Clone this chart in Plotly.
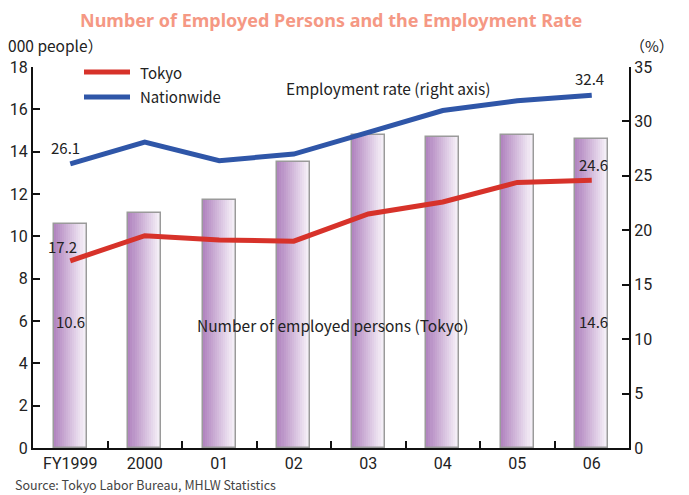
import plotly.graph_objects as go

# ---- data ----
categories = ["FY1999", "2000", "01", "02", "03", "04", "05", "06"]
employed_tokyo = [10.6, 11.1, 11.7, 13.5, 14.8, 14.7, 14.8, 14.6]   # 1000 people
rate_tokyo = [17.2, 19.5, 19.1, 19.0, 21.5, 22.6, 24.4, 24.6]      # %
rate_nation = [26.1, 28.1, 26.4, 27.0, 29.0, 31.0, 31.9, 32.4]     # %
left_ticks = [0, 2, 4, 6, 8, 10, 12, 14, 16, 18]
right_ticks = [0, 5, 10, 15, 20, 25, 30, 35]

TICKFONT = "Roboto, Liberation Sans, sans-serif"
TXT = "Noto Sans CJK JP, Noto Sans, sans-serif"
RED = "#d7322a"
BLUE = "#2f56a8"

fig = go.Figure()

# gradient bars via thin overlaid slices
N = 16
BW = 0.44
c0 = (178, 134, 192)
c1 = (248, 244, 250)
for i in range(N):
    t = i / (N - 1)
    col = "rgb(%d,%d,%d)" % tuple(round(c0[k] + (c1[k] - c0[k]) * t) for k in range(3))
    fig.add_trace(go.Bar(
        x=categories, y=employed_tokyo, width=BW / N + 0.002,
        offset=-BW / 2 + i * BW / N, marker=dict(color=col, line=dict(width=0)),
        showlegend=False, hoverinfo="skip", yaxis="y"))
# outline
fig.add_trace(go.Bar(
    x=categories, y=employed_tokyo, width=BW, offset=-BW / 2,
    marker=dict(color="rgba(0,0,0,0)", line=dict(color="#9a9a9a", width=1.5)),
    showlegend=False, hoverinfo="skip", yaxis="y"))

fig.add_trace(go.Scatter(
    x=categories, y=rate_tokyo, mode="lines", name="Tokyo",
    line=dict(color=RED, width=5), yaxis="y2", showlegend=False))
fig.add_trace(go.Scatter(
    x=categories, y=rate_nation, mode="lines", name="Nationwide",
    line=dict(color=BLUE, width=5), yaxis="y2", showlegend=False))

# page has an 8px body margin: figure is placed at (8,8)
OFF = 8
tickfont = dict(family=TICKFONT, size=16, color="#222")
fig.update_layout(
    width=689 - OFF, height=495 - OFF,
    margin=dict(l=33 - OFF, r=60, t=67 - OFF, b=47, autoexpand=False),
    paper_bgcolor="white", plot_bgcolor="white",
    barmode="overlay", bargap=0,
    showlegend=False,
    xaxis=dict(type="category", range=[-0.5, 7.5], showline=True, linecolor="#111",
               linewidth=2, ticks="inside", ticklen=7, tickwidth=2, tickcolor="#111",
               tickson="boundaries", tickfont=tickfont, showgrid=False, zeroline=False),
    yaxis=dict(range=[0, 18], tickvals=left_ticks, showline=True, linecolor="#111",
               linewidth=2, ticks="inside", ticklen=7, tickwidth=2, tickcolor="#111",
               tickfont=tickfont, showgrid=False, zeroline=False),
    yaxis2=dict(range=[0, 35], tickvals=right_ticks, overlaying="y", side="right",
                showline=True, linecolor="#111", linewidth=2, ticks="inside", ticklen=7,
                tickwidth=2, tickcolor="#111", tickfont=tickfont, showgrid=False,
                zeroline=False),
)

def px_x(p):
    return (p - 33) / 596
def px_y(p):
    return (448 - p) / 381

ann = []
def add(text, x, y, xref="paper", yref="paper", size=15, color="#222", xanchor="center",
        yanchor="middle", family=TXT, **kw):
    ann.append(dict(text=text, x=x, y=y, xref=xref, yref=yref, showarrow=False,
                    font=dict(family=family, size=size, color=color),
                    xanchor=xanchor, yanchor=yanchor, **kw))

add("<b>Number of Employed Persons and the Employment Rate</b>", px_x(331), px_y(20),
    size=18, color="#f59884", family="Noto Sans, sans-serif")
add("（1000 people）", px_x(105), px_y(45), xanchor="right", size=15.5)
add("（%）", px_x(676), px_y(45), xanchor="right", size=15)
add("Employment rate (right axis)", px_x(388), px_y(88), size=15.5)
add("Number of employed persons (Tokyo)", px_x(332), px_y(325), size=15.5)
add("Source: Tokyo Labor Bureau, MHLW Statistics", px_x(13), px_y(485), xanchor="left",
    size=12.5, color="#444")

# manual legend
shapes = []
for name, col, yp in [("Tokyo", RED, 72), ("Nationwide", BLUE, 97)]:
    shapes.append(dict(type="line", xref="paper", yref="paper",
                       x0=px_x(84), x1=px_x(130), y0=px_y(yp), y1=px_y(yp),
                       line=dict(color=col, width=5)))
    add(name, px_x(138), px_y(yp), xanchor="left", size=15)

# data labels (x given as category index)
last = len(categories) - 1
add(f"{rate_nation[0]}", 0, rate_nation[0], xref="x", yref="y2", yshift=16, xshift=-5)
add(f"{rate_nation[last]}", last, rate_nation[last], xref="x", yref="y2", yshift=17, xshift=-2)
add(f"{rate_tokyo[0]}", 0, rate_tokyo[0], xref="x", yref="y2", yshift=14, xshift=-8)
add(f"{rate_tokyo[last]}", last, rate_tokyo[last], xref="x", yref="y2", yshift=16, xshift=2)
add(f"{employed_tokyo[0]}", 0, 6, xref="x", yref="y")
add(f"{employed_tokyo[last]}", last, 6, xref="x", yref="y", xshift=2)

fig.update_layout(annotations=ann, shapes=shapes)
fig.write_html("out.html")
